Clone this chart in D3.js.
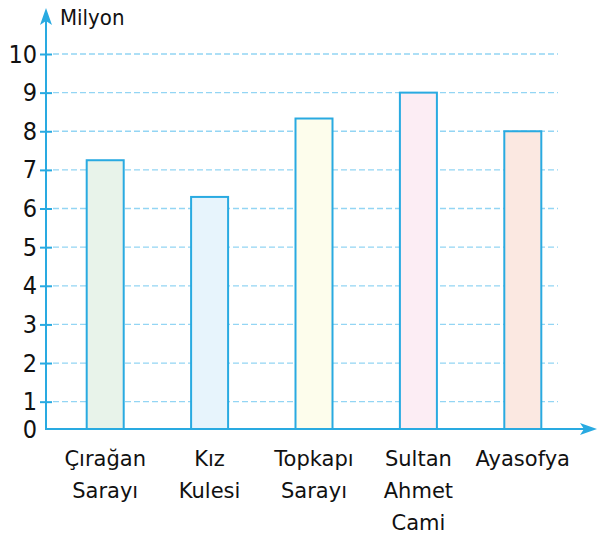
<!DOCTYPE html>
<html>
<head>
<meta charset="utf-8">
<script src="https://cdn.jsdelivr.net/npm/d3@7"></script>
<style>
  body { margin: 0; background: #fff; }
  svg { display: block; }
</style>
</head>
<body>
<svg width="609" height="537"></svg>
<script>
// data
var categories = [["Çırağan", "Sarayı"], ["Kız", "Kulesi"], ["Topkapı", "Sarayı"], ["Sultan", "Ahmet", "Cami"], ["Ayasofya"]];
var values = [7.25, 6.3, 8.33, 9, 8];
var fills = ["#e8f3ea", "#e7f4fc", "#fdfdec", "#fcedf4", "#fbe8e1"];
var tickValues = [1, 2, 3, 4, 5, 6, 7, 8, 9, 10];
var unitLabel = "Milyon";

var svg = d3.select("svg");
var blue = "#29aae1",
  gridBlue = "#93d5f4",
  axisX = 46,
  baseY = 429;

var x = d3.scalePoint()
    .domain(d3.range(values.length))
    .range([53, 575])
    .padding(0.5);

var y = d3.scaleLinear()
    .domain([0, 10])
    .range([440.3, 54]);

var barW = 37;

// grid
svg.append("g")
  .selectAll("line")
  .data(tickValues)
  .enter().append("line")
    .attr("x1", axisX + 7)
    .attr("x2", 558)
    .attr("y1", function(d) { return y(d); })
    .attr("y2", function(d) { return y(d); })
    .attr("stroke", gridBlue)
    .attr("stroke-width", 1.3)
    .attr("stroke-dasharray", "6,3");

// bars
svg.append("g")
  .selectAll("rect")
  .data(values)
  .enter().append("rect")
    .attr("x", function(d, i) { return x(i) - barW / 2; })
    .attr("y", function(d) { return y(d); })
    .attr("width", barW)
    .attr("height", function(d) { return baseY - y(d); })
    .attr("fill", function(d, i) { return fills[i]; })
    .attr("stroke", blue)
    .attr("stroke-width", 2);

// y axis
var yAxis = svg.append("g")
    .attr("transform", "translate(" + axisX + ",0)")
    .call(d3.axisLeft(y).tickValues(tickValues).tickSize(0).tickPadding(9));

yAxis.select(".domain").remove();
yAxis.selectAll(".tick line")
    .attr("x1", -6)
    .attr("x2", 6)
    .attr("stroke", blue)
    .attr("stroke-width", 2);
yAxis.selectAll(".tick text")
    .attr("fill", "#111")
    .style("font-family", "'Liberation Sans Narrow', 'DejaVu Sans Condensed', sans-serif")
    .style("font-size", "25px");

svg.append("text")
    .attr("x", axisX - 9)
    .attr("y", baseY)
    .attr("dy", "0.35em")
    .attr("text-anchor", "end")
    .attr("fill", "#111")
    .style("font-family", "'Liberation Sans Narrow', 'DejaVu Sans Condensed', sans-serif")
    .style("font-size", "25px")
    .text("0");

// axis lines and arrows
svg.append("line")
    .attr("x1", axisX).attr("x2", axisX)
    .attr("y1", baseY + 1).attr("y2", 20)
    .attr("stroke", blue).attr("stroke-width", 2);
svg.append("line")
    .attr("x1", axisX - 1).attr("x2", 588)
    .attr("y1", baseY).attr("y2", baseY)
    .attr("stroke", blue).attr("stroke-width", 2);
svg.append("path")
    .attr("d", "M" + axisX + ",8 L" + (axisX + 6) + ",25 L" + axisX + ",21 L" + (axisX - 6) + ",25 Z")
    .attr("fill", blue);
svg.append("path")
    .attr("d", "M597," + baseY + " L580," + (baseY - 6) + " L584," + baseY + " L580," + (baseY + 6) + " Z")
    .attr("fill", blue);

svg.append("text")
    .attr("x", 60)
    .attr("y", 25)
    .attr("fill", "#111")
    .style("font-family", "'DejaVu Sans Condensed', 'DejaVu Sans', sans-serif")
    .style("font-size", "22px")
    .text(unitLabel);

// category labels
var labels = svg.append("g")
  .selectAll("text")
  .data(categories)
  .enter().append("text")
    .attr("x", function(d, i) { return x(i); })
    .attr("y", 466)
    .attr("text-anchor", "middle")
    .attr("fill", "#111")
    .style("font-family", "'DejaVu Sans', sans-serif")
    .style("font-size", "21px");

labels.selectAll("tspan")
  .data(function(d) { return d; })
  .enter().append("tspan")
    .attr("x", function() { return d3.select(this.parentNode).attr("x"); })
    .attr("dy", function(d, i) { return i === 0 ? 0 : 32; })
    .text(function(d) { return d; });
</script>
</body>
</html>
